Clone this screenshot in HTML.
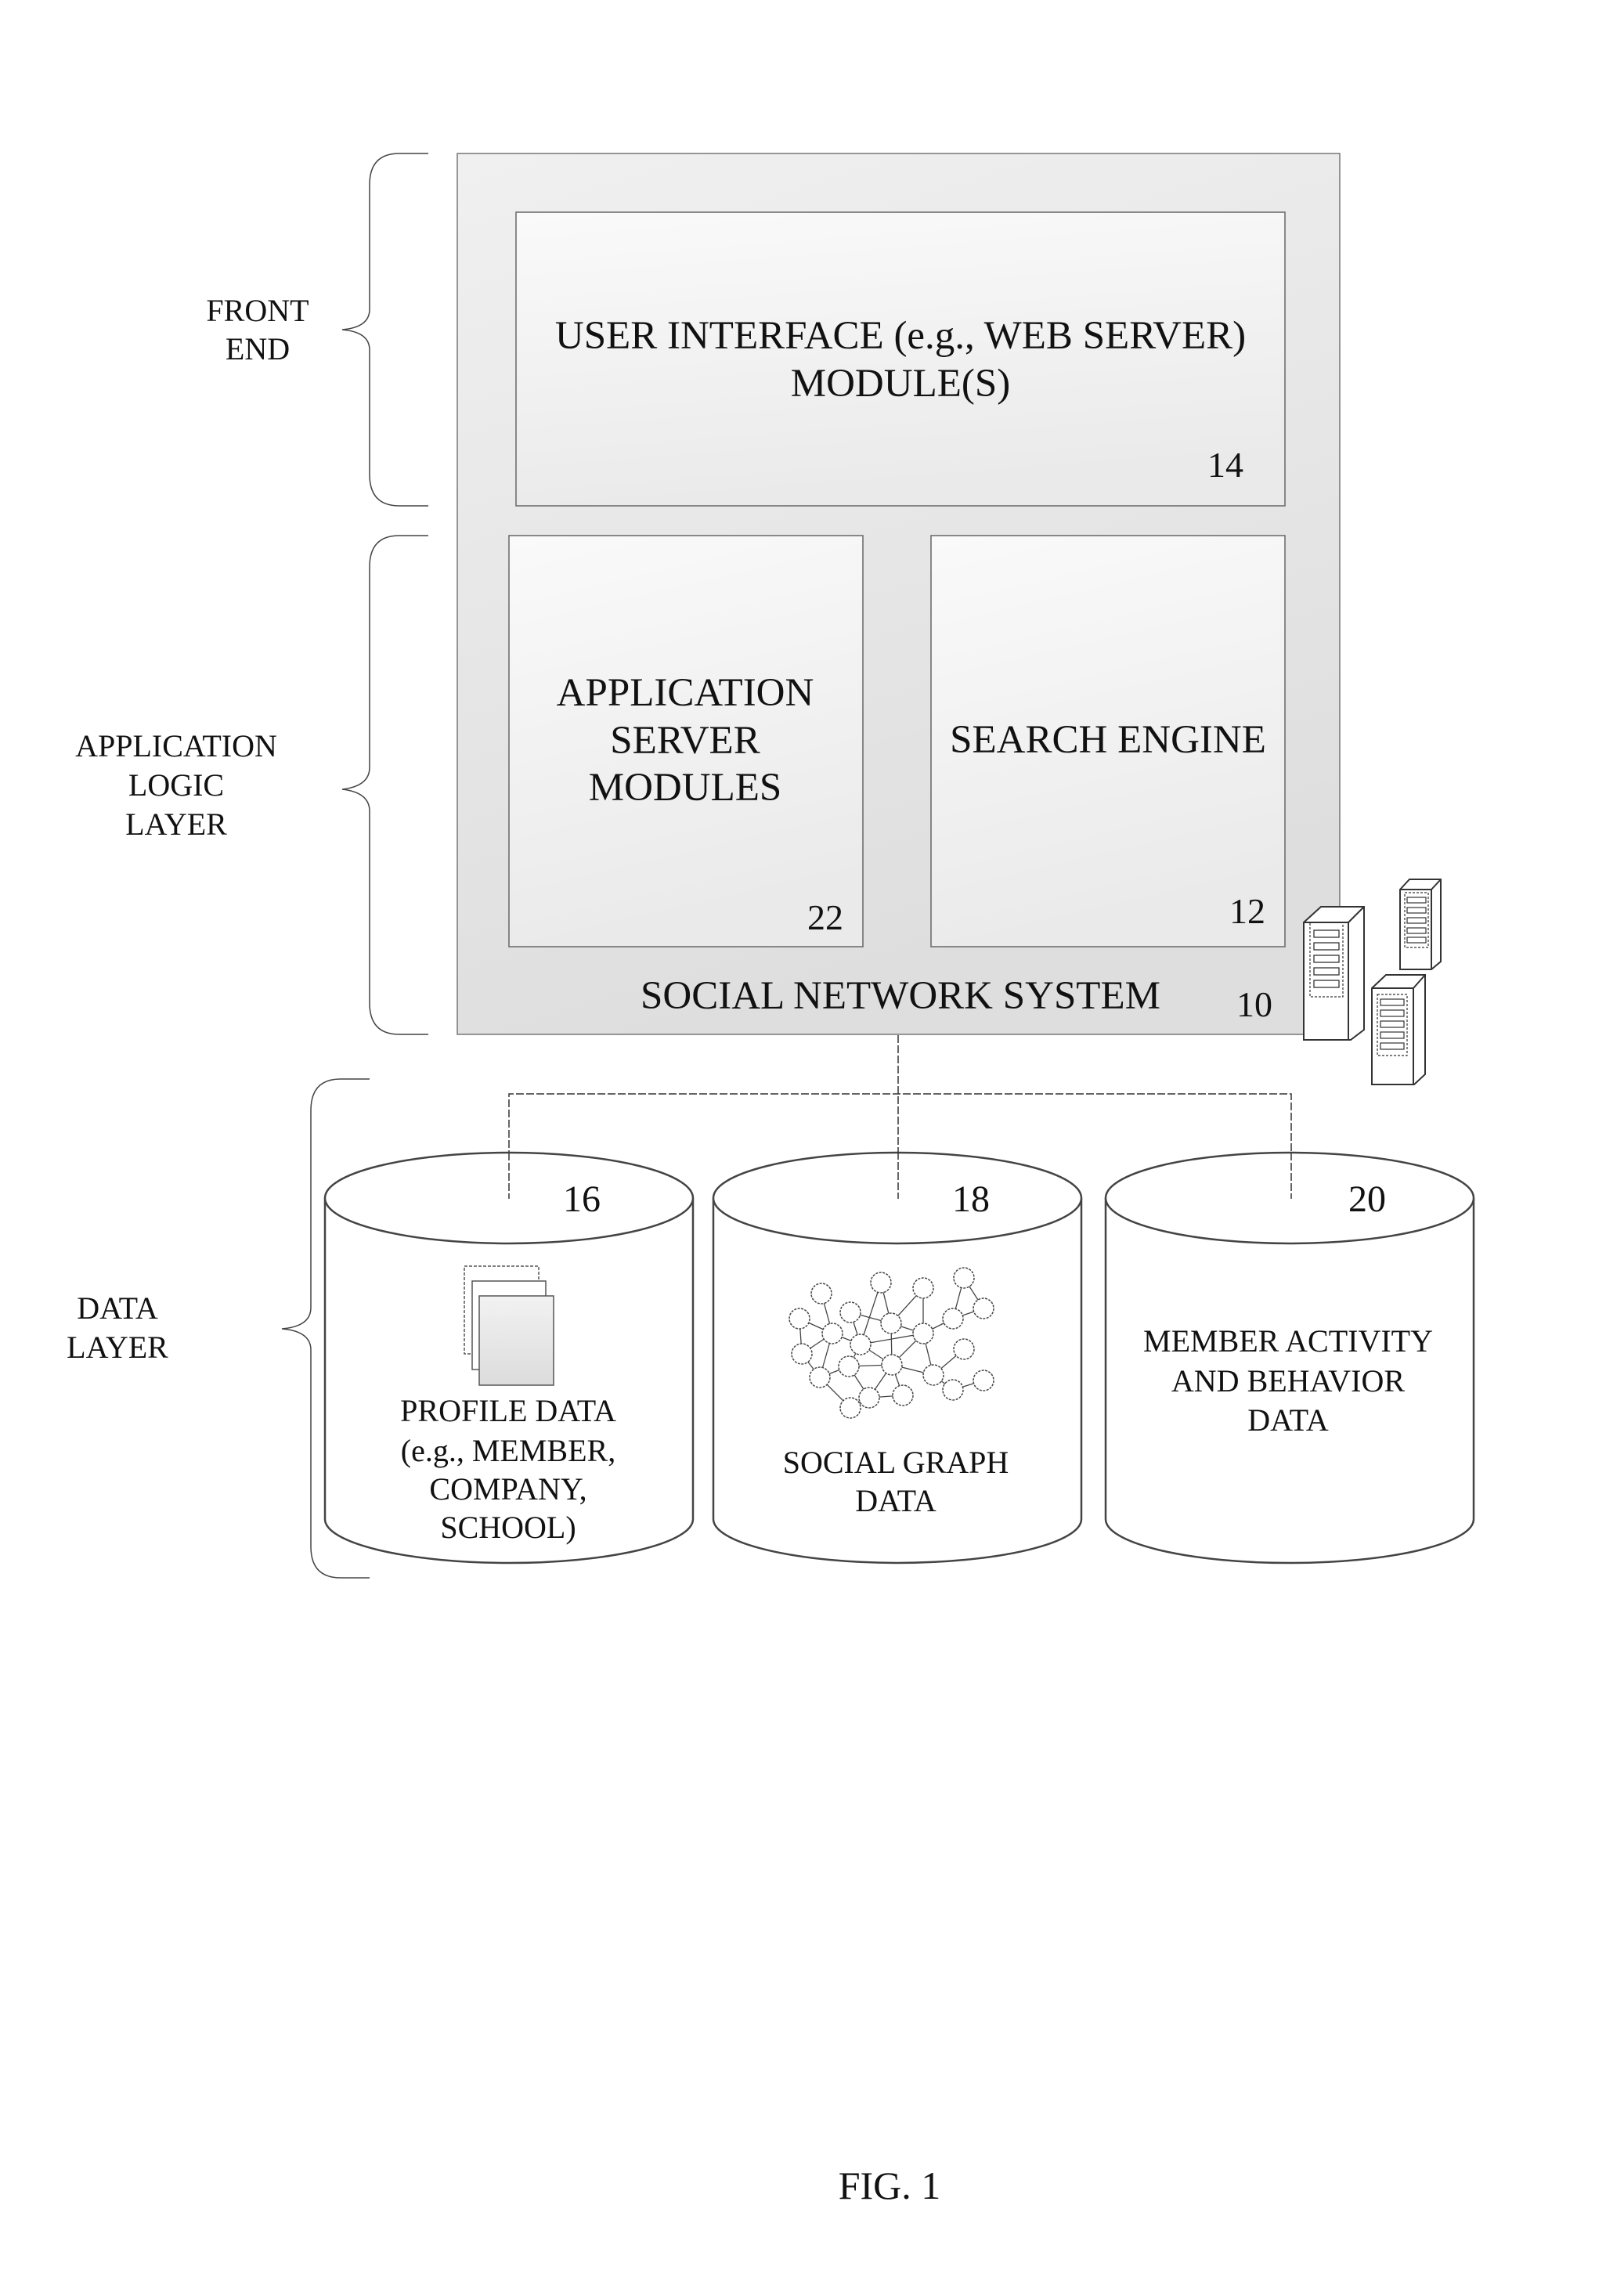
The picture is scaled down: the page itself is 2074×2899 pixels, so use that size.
<!DOCTYPE html>
<html><head><meta charset="utf-8">
<style>
html,body{margin:0;padding:0;background:#fff;}
svg{display:block;}
text{font-family:"Liberation Serif",serif;fill:#111;}
</style></head>
<body>
<svg width="2074" height="2899" viewBox="0 0 2074 2899" xmlns="http://www.w3.org/2000/svg">
<defs>
<linearGradient id="gMain" x1="0" y1="0" x2="0.3" y2="1">
<stop offset="0" stop-color="#f0f0f0"/><stop offset="1" stop-color="#dedede"/></linearGradient>
<linearGradient id="gIn" x1="0" y1="0" x2="0.2" y2="1">
<stop offset="0" stop-color="#fafafa"/><stop offset="1" stop-color="#eaeaea"/></linearGradient>
<linearGradient id="gDoc" x1="0" y1="0" x2="0" y2="1">
<stop offset="0" stop-color="#f2f2f2"/><stop offset="1" stop-color="#dcdcdc"/></linearGradient>
</defs>

<g fill="none" stroke="#444" stroke-width="1.5">
<path d="M547,196 H510 Q472,196 472,236 V395 Q472,418 437,421 Q472,424 472,447 V606 Q472,646 510,646 H547"/>
<path d="M547,684 H510 Q472,684 472,724 V980 Q472,1004 437,1008 Q472,1012 472,1036 V1281 Q472,1321 510,1321 H547"/>
<path d="M472,1378 H435 Q397,1378 397,1418 V1670 Q397,1694 360,1697 Q397,1700 397,1724 V1975 Q397,2015 435,2015 H472"/>
</g>

<g font-size="40" text-anchor="middle">
<text x="329" y="410">FRONT</text><text x="329" y="459">END</text>
<text x="225" y="966">APPLICATION</text><text x="225" y="1016">LOGIC</text><text x="225" y="1066">LAYER</text>
<text x="150" y="1684">DATA</text><text x="150" y="1734">LAYER</text>
</g>

<rect x="584" y="196" width="1127" height="1125" fill="url(#gMain)" stroke="#777" stroke-width="1.5"/>
<rect x="659" y="271" width="982" height="375" fill="url(#gIn)" stroke="#666" stroke-width="1.5"/>
<rect x="650" y="684" width="452" height="525" fill="url(#gIn)" stroke="#666" stroke-width="1.5"/>
<rect x="1189" y="684" width="452" height="525" fill="url(#gIn)" stroke="#666" stroke-width="1.5"/>

<g font-size="51" text-anchor="middle">
<text x="1150" y="445">USER INTERFACE (e.g., WEB SERVER)</text>
<text x="1150" y="506">MODULE(S)</text>
<text x="875" y="901">APPLICATION</text>
<text x="875" y="962">SERVER</text>
<text x="875" y="1022">MODULES</text>
<text x="1415" y="961">SEARCH ENGINE</text>
<text x="1150" y="1288">SOCIAL NETWORK SYSTEM</text>
<text x="1565" y="609" font-size="46">14</text>
<text x="1054" y="1187" font-size="46">22</text>
<text x="1593" y="1179" font-size="46">12</text>
<text x="1602" y="1298" font-size="46">10</text>
</g>

<g fill="none" stroke="#333" stroke-width="1.5" stroke-dasharray="10,3">
<line x1="1147" y1="1322" x2="1147" y2="1531"/>
<polyline points="650,1531 650,1397 1649,1397 1649,1531"/>
</g>

<g fill="#fff" stroke="#444" stroke-width="2.5">
<path d="M415,1530 V1940 A235,56 0 0 0 885,1940 V1530"/>
<ellipse cx="650" cy="1530" rx="235" ry="58"/>
<path d="M911,1530 V1940 A235,56 0 0 0 1381,1940 V1530"/>
<ellipse cx="1146" cy="1530" rx="235" ry="58"/>
<path d="M1412,1530 V1940 A235,56 0 0 0 1882,1940 V1530"/>
<ellipse cx="1647" cy="1530" rx="235" ry="58"/>
</g>
<g fill="none" stroke="#333" stroke-width="1.5" stroke-dasharray="10,3">
<line x1="650" y1="1472" x2="650" y2="1531"/>
<line x1="1147" y1="1471" x2="1147" y2="1531"/>
<line x1="1649" y1="1472" x2="1649" y2="1531"/>
</g>
<g font-size="48" text-anchor="middle">
<text x="743" y="1547">16</text><text x="1240" y="1547">18</text><text x="1746" y="1547">20</text>
</g>
<g font-size="40" text-anchor="middle">
<text x="649" y="1815">PROFILE DATA</text>
<text x="649" y="1866">(e.g., MEMBER,</text>
<text x="649" y="1915">COMPANY,</text>
<text x="649" y="1964">SCHOOL)</text>
<text x="1144" y="1881">SOCIAL GRAPH</text>
<text x="1144" y="1930">DATA</text>
<text x="1645" y="1726">MEMBER ACTIVITY</text>
<text x="1645" y="1777">AND BEHAVIOR</text>
<text x="1645" y="1827">DATA</text>
</g>

<g stroke="#555" stroke-width="1.5">
<rect x="593" y="1617" width="95" height="112" fill="#fff" stroke-dasharray="4,2"/>
<rect x="603" y="1636" width="94" height="113" fill="#fff"/>
<rect x="612" y="1655" width="95" height="114" fill="url(#gDoc)"/>
</g>

<g stroke="#444" stroke-width="1.3" fill="none">
<path d="M1049,1652 L1063,1703 M1021,1684 L1063,1703 M1063,1703 L1099,1717 M1063,1703 L1024,1729 M1063,1703 L1047,1759 M1086,1676 L1099,1717 M1125,1638 L1099,1717 M1125,1638 L1138,1690 M1086,1676 L1138,1690 M1179,1645 L1138,1690 M1179,1645 L1179,1703 M1138,1690 L1179,1703 M1099,1717 L1179,1703 M1099,1717 L1084,1745 M1099,1717 L1139,1743 M1138,1690 L1139,1743 M1179,1703 L1139,1743 M1179,1703 L1217,1684 M1217,1684 L1231,1632 M1231,1632 L1256,1671 M1256,1671 L1217,1684 M1179,1703 L1192,1756 M1231,1723 L1192,1756 M1139,1743 L1192,1756 M1192,1756 L1217,1775 M1217,1775 L1256,1763 M1084,1745 L1139,1743 M1084,1745 L1047,1759 M1024,1729 L1047,1759 M1047,1759 L1086,1798 M1084,1745 L1110,1785 M1139,1743 L1110,1785 M1139,1743 L1153,1782 M1110,1785 L1086,1798 M1110,1785 L1153,1782 M1021,1684 L1024,1729"/>
</g>
<g fill="#fff" stroke="#444" stroke-width="1.5" stroke-dasharray="3,1.5">
<circle cx="1049" cy="1652" r="13"/><circle cx="1125" cy="1638" r="13"/><circle cx="1179" cy="1645" r="13"/>
<circle cx="1231" cy="1632" r="13"/><circle cx="1256" cy="1671" r="13"/><circle cx="1217" cy="1684" r="13"/>
<circle cx="1021" cy="1684" r="13"/><circle cx="1086" cy="1676" r="13"/><circle cx="1138" cy="1690" r="13"/>
<circle cx="1063" cy="1703" r="13"/><circle cx="1179" cy="1703" r="13"/><circle cx="1099" cy="1717" r="13"/>
<circle cx="1024" cy="1729" r="13"/><circle cx="1231" cy="1723" r="13"/><circle cx="1084" cy="1745" r="13"/>
<circle cx="1139" cy="1743" r="13"/><circle cx="1047" cy="1759" r="13"/><circle cx="1192" cy="1756" r="13"/>
<circle cx="1217" cy="1775" r="13"/><circle cx="1256" cy="1763" r="13"/><circle cx="1110" cy="1785" r="13"/>
<circle cx="1153" cy="1782" r="13"/><circle cx="1086" cy="1798" r="13"/>
</g>

<g stroke="#333" stroke-width="2" fill="#fff">
<path d="M1665,1178 L1687,1158 L1742,1158 L1742,1315 L1725,1328 L1665,1328 Z"/>
<path d="M1722,1178 L1742,1158 M1665,1178 H1722 V1328" fill="none"/>
<rect x="1673" y="1178" width="42" height="95" fill="none" stroke-width="1.2" stroke-dasharray="3,2"/>
<g fill="none" stroke-width="1.3">
<rect x="1678" y="1188" width="32" height="9"/><rect x="1678" y="1204" width="32" height="9"/><rect x="1678" y="1220" width="32" height="9"/>
<rect x="1678" y="1236" width="32" height="9"/><rect x="1678" y="1252" width="32" height="9"/></g>

<path d="M1788,1136 L1800,1123 L1840,1123 L1840,1228 L1828,1238 L1788,1238 Z"/>
<path d="M1828,1136 L1840,1123 M1788,1136 H1828 V1238" fill="none"/>
<rect x="1794" y="1140" width="30" height="70" fill="none" stroke-width="1.2" stroke-dasharray="3,2"/>
<g fill="none" stroke-width="1.2">
<rect x="1797" y="1146" width="24" height="7"/><rect x="1797" y="1159" width="24" height="7"/><rect x="1797" y="1172" width="24" height="7"/>
<rect x="1797" y="1185" width="24" height="7"/><rect x="1797" y="1197" width="24" height="7"/></g>

<path d="M1752,1262 L1770,1245 L1820,1245 L1820,1372 L1806,1385 L1752,1385 Z"/>
<path d="M1805,1262 L1820,1245 M1752,1262 H1805 V1385" fill="none"/>
<rect x="1759" y="1270" width="38" height="78" fill="none" stroke-width="1.2" stroke-dasharray="3,2"/>
<g fill="none" stroke-width="1.2">
<rect x="1763" y="1276" width="30" height="8"/><rect x="1763" y="1290" width="30" height="8"/><rect x="1763" y="1304" width="30" height="8"/>
<rect x="1763" y="1318" width="30" height="8"/><rect x="1763" y="1332" width="30" height="8"/></g>
</g>

<text x="1136" y="2808" font-size="50" text-anchor="middle">FIG. 1</text>
</svg>
</body></html>
